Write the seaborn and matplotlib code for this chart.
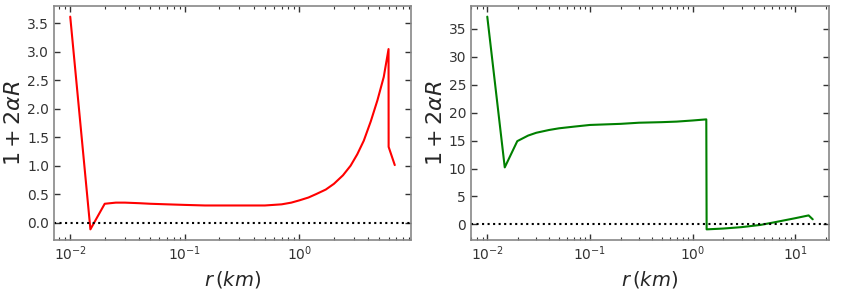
import matplotlib
matplotlib.use("Agg")
import matplotlib.pyplot as plt
import matplotlib.ticker as mticker
import seaborn as sns
import pandas as pd
import numpy as np

# Left panel data (red)
r_left = [0.01, 0.015, 0.02, 0.025, 0.03, 0.04, 0.05, 0.07, 0.1, 0.15, 0.2, 0.3, 0.5,
          0.7, 0.85, 1.0, 1.2, 1.4, 1.7, 2.0, 2.4, 2.8, 3.2, 3.65, 4.2, 4.8, 5.45, 6.0, 6.01, 6.8]
v_left = [3.62, -0.12, 0.33, 0.35, 0.35, 0.34, 0.33, 0.32, 0.31, 0.30, 0.30, 0.30, 0.30,
          0.32, 0.35, 0.39, 0.44, 0.50, 0.58, 0.68, 0.83, 1.00, 1.20, 1.44, 1.78, 2.15, 2.56, 3.05, 1.33, 1.01]

# Right panel data (green)
r_right = [0.01, 0.0148, 0.0196, 0.025, 0.03, 0.04, 0.05, 0.07, 0.1, 0.2, 0.3, 0.5, 0.7,
           1.0, 1.36, 1.37, 2.0, 3.0, 4.6, 6.0, 8.0, 10.0, 13.5, 14.8]
v_right = [37.2, 10.2, 14.9, 15.9, 16.4, 16.9, 17.2, 17.5, 17.8, 18.0, 18.2, 18.3, 18.4,
           18.6, 18.8, -0.9, -0.75, -0.5, -0.1, 0.3, 0.75, 1.1, 1.6, 0.9]

sns.set_style("ticks", {
    "xtick.direction": "in", "ytick.direction": "in",
    "xtick.top": True, "ytick.right": True,
    "axes.edgecolor": "#888888",
})
plt.rcParams["font.family"] = ["DejaVu Sans"]

fig = plt.figure(figsize=(8.42, 2.92), dpi=100)
ax1 = fig.add_axes([54/842, 52/292, 357/842, 234/292])
ax2 = fig.add_axes([471/842, 52/292, 358/842, 234/292])

df_l = pd.DataFrame({"r": r_left, "v": v_left})
df_r = pd.DataFrame({"r": r_right, "v": v_right})

for ax, df, col, step, fmt in [(ax1, df_l, "red", 0.5, "{x:.1f}"), (ax2, df_r, "green", 5, "{x:.0f}")]:
    ax.set_xscale("log")
    sns.lineplot(data=df, x="r", y="v", ax=ax, color=col, lw=1.5, sort=False, estimator=None)
    ax.axhline(0, color="black", ls=":", lw=1.5)
    ax.set_xlabel(r"$r\,(km)$", fontsize=14)
    ax.set_ylabel(r"$1 + 2\alpha R$", fontsize=16, labelpad=2)
    ax.yaxis.set_major_locator(mticker.MultipleLocator(step))
    ax.yaxis.set_major_formatter(mticker.StrMethodFormatter(fmt))
    ax.xaxis.set_major_locator(mticker.LogLocator(base=10.0))
    ax.xaxis.set_minor_locator(mticker.LogLocator(base=10.0, subs=np.arange(2, 10) * 1.0, numticks=50))
    ax.xaxis.set_minor_formatter(mticker.NullFormatter())
    ax.tick_params(which="both", direction="in", top=True, right=True, bottom=True, left=True,
                   color="#333333", labelcolor="#333333", labelsize=10)
    ax.tick_params(which="major", length=4, width=1.0)
    ax.tick_params(which="minor", length=2.5, width=0.8)
    for s in ax.spines.values():
        s.set_visible(True)
        s.set_color("#888888")
        s.set_linewidth(1.2)

fig.savefig("out.png", dpi=100)
